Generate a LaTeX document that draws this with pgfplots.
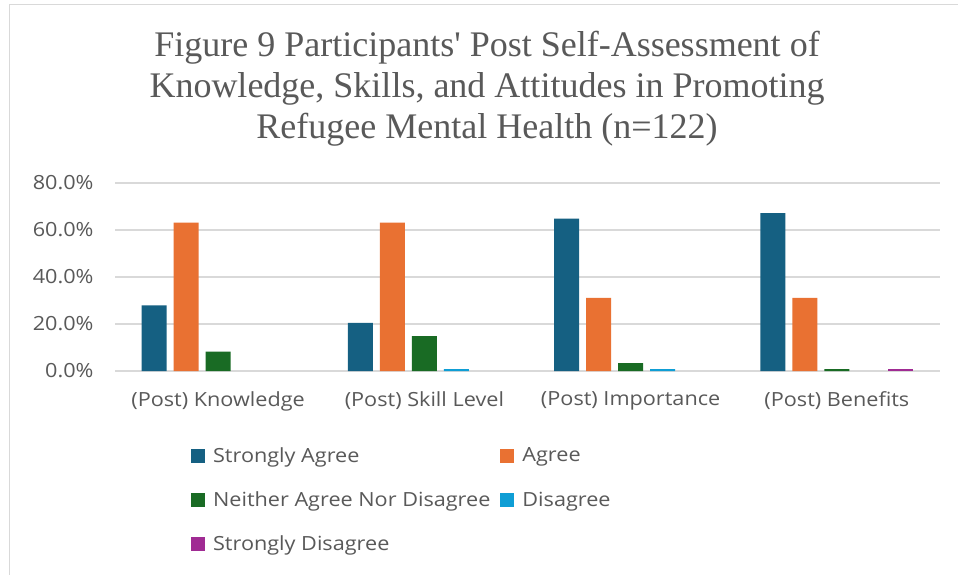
\documentclass[border=0pt]{standalone}
\usepackage{pgfplots}
\pgfplotsset{compat=1.18}
\usepackage{fontspec}
\setmainfont{Open Sans}[FakeStretch=1.11]
\newfontfamily\titlefont{Liberation Serif}
\definecolor{cSA}{HTML}{156082}
\definecolor{cAg}{HTML}{E97132}
\definecolor{cNe}{HTML}{196B24}
\definecolor{cDi}{HTML}{0F9ED5}
\definecolor{cSD}{HTML}{A02B93}
\definecolor{txt}{HTML}{595959}
\definecolor{grd}{HTML}{D9D9D9}
\begin{document}
\begin{tikzpicture}
\path[use as bounding box] (0bp,0bp) rectangle (958bp,575bp);
\fill[white] (0bp,0bp) rectangle (958bp,575bp);
\draw[grd, line width=1.5bp] (9.5bp,0bp) -- (9.5bp,570.5bp) -- (958bp,570.5bp);
\node[align=center, text=txt, font=\titlefont\fontsize{36bp}{41bp}\selectfont] at (487bp,486bp)
 {Figure 9 Participants' Post Self-Assessment of\\Knowledge, Skills, and Attitudes in Promoting\\Refugee Mental Health (n=122)};
\begin{axis}[
  at={(115bp,204bp)}, anchor=south west,
  width=825bp, height=188bp, scale only axis,
  xmin=-0.5, xmax=3.5, ymin=0, ymax=80,
  ybar=7bp, bar width=25bp,
  xtick={0,1,2,3},
  xticklabels={(Post) Knowledge,(Post) Skill Level,(Post) Importance,(Post) Benefits},
  ytick={0,20,40,60,80},
  yticklabel={\pgfmathprintnumber[fixed,fixed zerofill,precision=1]{\tick}\%},
  /pgf/number format/assume math mode=true,
  axis line style={draw=none},
  tick style={draw=none},
  ymajorgrids,
  major grid style={grd, line width=1.5bp},
  ticklabel style={text=txt, font=\fontsize{19.5bp}{23bp}\selectfont},
  yticklabel style={xshift=-18bp},
  xticklabel style={yshift=-13bp},
  clip=false,
  legend columns=2,
  legend cell align=left,
  legend style={at={(0.092,-0.395)}, anchor=north west, draw=none, fill=none,
    font=\fontsize{19.5bp}{23bp}\selectfont, text=txt,
    row sep=24bp, inner sep=0pt,
    /tikz/every odd column/.append style={column sep=6bp},
    /tikz/every even column/.append style={column sep=8bp}},
  legend image code/.code={\fill[#1] (0bp,-7bp) rectangle (14bp,7bp);},
]
\addplot[fill=cSA, draw=none] coordinates {(0,27.9) (1,20.5) (2,64.8) (3,67.2)};
\addplot[fill=cAg, draw=none] coordinates {(0,63.1) (1,63.1) (2,31.1) (3,31.1)};
\addplot[fill=cNe, draw=none] coordinates {(0,8.2) (1,14.8) (2,3.3) (3,0.8)};
\addplot[fill=cDi, draw=none] coordinates {(1,0.8) (2,0.8)};
\addplot[fill=cSD, draw=none] coordinates {(3,0.8)};
\legend{Strongly Agree,Agree,Neither Agree Nor Disagree,Disagree,Strongly Disagree}
\end{axis}
\end{tikzpicture}
\end{document}
